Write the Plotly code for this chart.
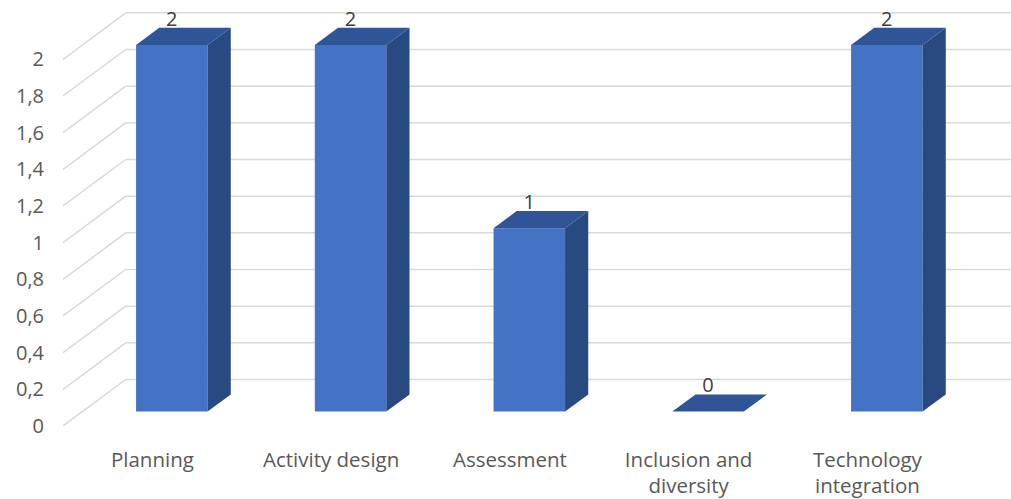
import plotly.graph_objects as go

# ---- data -------------------------------------------------------------
categories = ["Planning", "Activity design", "Assessment",
              "Inclusion and<br>diversity", "Technology<br>integration"]
values = [2, 2, 1, 0, 2]
y_ticks = [0, 0.2, 0.4, 0.6, 0.8, 1.0, 1.2, 1.4, 1.6, 1.8, 2.0]
y_tick_text = ["0", "0,2", "0,4", "0,6", "0,8", "1", "1,2", "1,4", "1,6", "1,8", "2"]

# ---- oblique 3-D projection (depth d in [0, 1] -> shift in x and y units)
DX = 0.3508          # horizontal shift of the back wall, category units
DY = 0.2535          # vertical shift of the back wall, value units
D_FRONT = 0.31       # depth of the bar front faces
D_BACK = 0.68        # depth of the bar back faces
BAR_W = 0.4
LABEL_DROP = 0.016   # pulls the value labels down onto the column tops

FRONT = "#4472C4"
TOP = "#2F5597"
SIDE = "#284A80"
GRID = "#D9D9D9"
TEXT = "#595959"
FONT = "Open Sans"

X_MIN = -0.5
X_MAX = -0.5 + 948 / 178.75
Y_MAX = 428 / 184.2


def proj(x, v, d):
    return x + d * DX, v + d * DY


fig = go.Figure()

# side wall diagonals and back wall gridlines
shapes = []
for v in y_ticks:
    x0, y0 = proj(X_MIN, v, 0)
    x1, y1 = proj(X_MIN, v, 1)
    shapes.append(dict(type="line", xref="x", yref="y", x0=x0, y0=y0, x1=x1, y1=y1,
                       line=dict(color=GRID, width=1.5), layer="below"))
    shapes.append(dict(type="line", xref="x", yref="y", x0=x1, y0=y1, x1=X_MAX + 1, y1=y1,
                       line=dict(color=GRID, width=1.5), layer="below"))

# front faces of the columns
fig.add_trace(go.Bar(
    x=[i + D_FRONT * DX for i in range(len(values))],
    y=values,
    base=D_FRONT * DY,
    width=BAR_W,
    marker=dict(color=FRONT, line=dict(width=0)),
    hoverinfo="skip",
))

# top and side faces
top_x, top_y, side_x, side_y = [], [], [], []
for i, v in enumerate(values):
    xl, xr = i - BAR_W / 2, i + BAR_W / 2
    for (x, d) in [(xl, D_FRONT), (xr, D_FRONT), (xr, D_BACK), (xl, D_BACK), (xl, D_FRONT)]:
        px, py = proj(x, v, d)
        top_x.append(px)
        top_y.append(py)
    top_x.append(None)
    top_y.append(None)
    if v > 0:
        for (val, d) in [(0, D_FRONT), (v, D_FRONT), (v, D_BACK), (0, D_BACK), (0, D_FRONT)]:
            px, py = proj(xr, val, d)
            side_x.append(px)
            side_y.append(py)
        side_x.append(None)
        side_y.append(None)

fig.add_trace(go.Scatter(x=side_x, y=side_y, mode="lines", fill="toself",
                         fillcolor=SIDE, line=dict(width=0), hoverinfo="skip"))
fig.add_trace(go.Scatter(x=top_x, y=top_y, mode="lines", fill="toself",
                         fillcolor=TOP, line=dict(width=0), hoverinfo="skip"))

# value labels
fig.add_trace(go.Scatter(
    x=[i + D_FRONT * DX for i in range(len(values))],
    y=[v + D_BACK * DY - LABEL_DROP for v in values],
    mode="text",
    text=[str(v) for v in values],
    textposition="top center",
    textfont=dict(family=FONT, size=20, color="#404040"),
    cliponaxis=False,
    hoverinfo="skip",
))

fig.update_layout(
    width=1011, height=499,
    margin=dict(l=63, r=0, t=0, b=71),
    paper_bgcolor="white", plot_bgcolor="white",
    showlegend=False,
    shapes=shapes,
    font=dict(family=FONT, size=20, color=TEXT),
    xaxis=dict(range=[X_MIN, X_MAX], tickvals=list(range(len(categories))),
               ticktext=categories, showgrid=False, zeroline=False, showline=False,
               ticklabelstandoff=19,
               tickfont=dict(family=FONT, size=20.5, color=TEXT), fixedrange=True),
    yaxis=dict(range=[0, Y_MAX], tickvals=y_ticks, ticktext=y_tick_text,
               showgrid=False, zeroline=False, showline=False, ticklabelstandoff=18,
               tickfont=dict(family=FONT, size=20, color=TEXT), fixedrange=True),
)

fig.write_html("out.html")
